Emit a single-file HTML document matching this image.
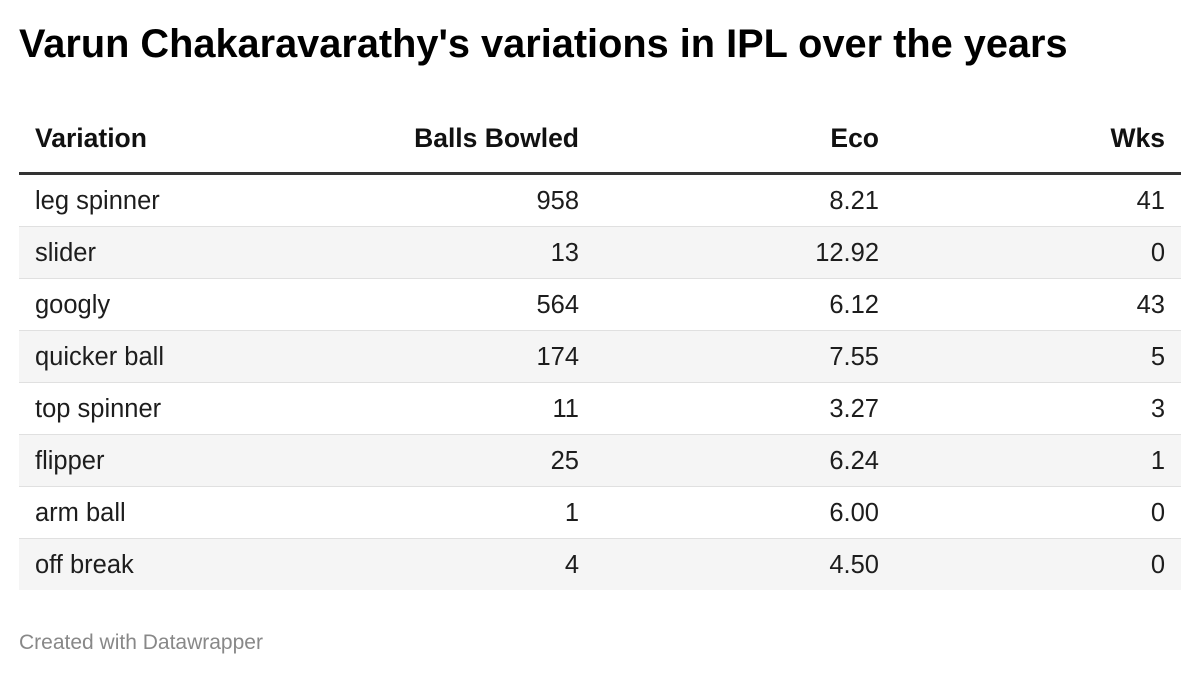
<!DOCTYPE html>
<html><head><style>
body{margin:0;width:1200px;height:675px;background:#fff;font-family:"Liberation Sans",sans-serif;color:#1d1d1d;position:relative;overflow:hidden}
h1{position:absolute;left:19px;top:22px;margin:0;font-size:40px;font-weight:bold;color:#000;transform:scaleX(0.993);transform-origin:left;white-space:nowrap}
table{position:absolute;left:19px;top:112px;width:1162px;border-collapse:collapse;font-size:25.5px}
th{font-weight:bold;height:52px;padding:0 16px 8px;border-bottom:3px solid #333;vertical-align:middle;color:#111;font-size:26.5px}
td{height:49px;padding:2px 16px 0;border-bottom:1px solid #e0e0e0}
tr.g td{background:#f5f5f5}
.l{text-align:left}.r{text-align:right}
.foot{position:absolute;left:19px;top:631px;font-size:21px;color:#888}
</style></head><body>
<h1>Varun Chakaravarathy's variations in IPL over the years</h1>
<table>
<colgroup><col style="width:318px"><col style="width:258px"><col style="width:300px"><col style="width:286px"></colgroup>
<tr><th class="l">Variation</th><th class="r">Balls Bowled</th><th class="r">Eco</th><th class="r">Wks</th></tr>
<tr><td>leg spinner</td><td class="r">958</td><td class="r">8.21</td><td class="r">41</td></tr>
<tr class="g"><td>slider</td><td class="r">13</td><td class="r">12.92</td><td class="r">0</td></tr>
<tr><td>googly</td><td class="r">564</td><td class="r">6.12</td><td class="r">43</td></tr>
<tr class="g"><td>quicker ball</td><td class="r">174</td><td class="r">7.55</td><td class="r">5</td></tr>
<tr><td>top spinner</td><td class="r">11</td><td class="r">3.27</td><td class="r">3</td></tr>
<tr class="g"><td>flipper</td><td class="r">25</td><td class="r">6.24</td><td class="r">1</td></tr>
<tr><td>arm ball</td><td class="r">1</td><td class="r">6.00</td><td class="r">0</td></tr>
<tr class="g"><td style="border:none">off break</td><td class="r" style="border:none">4</td><td class="r" style="border:none">4.50</td><td class="r" style="border:none">0</td></tr>
</table>
<div class="foot">Created with Datawrapper</div>
</body></html>
